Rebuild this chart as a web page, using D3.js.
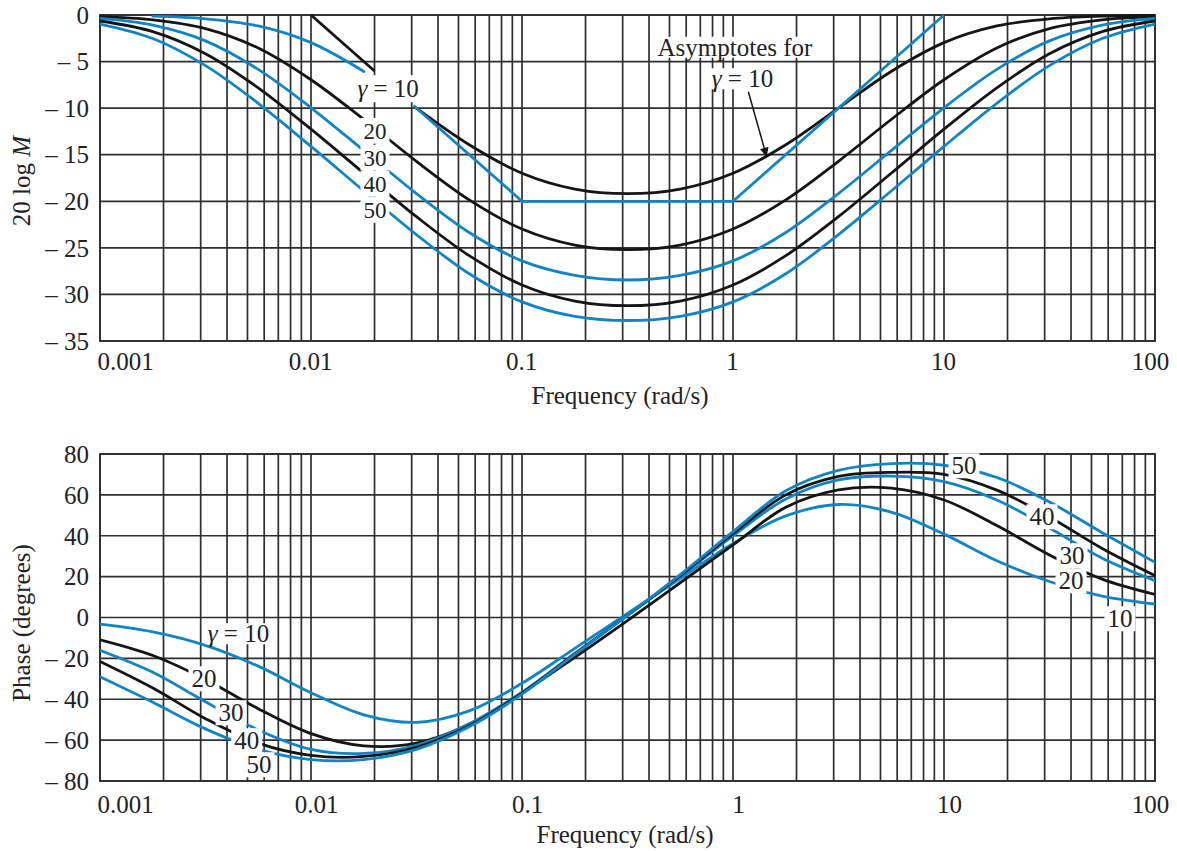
<!DOCTYPE html>
<html><head><meta charset="utf-8">
<script src="https://cdn.jsdelivr.net/npm/d3@7"></script>
<style>
body{margin:0;background:#fff}
svg text{font-family:"Liberation Serif","Times New Roman",serif;fill:#222}
</style>
</head><body>
<svg id="chart" width="1177" height="851"></svg>
<script>
// ---------------- data ----------------
const freq = [0.001, 0.00178, 0.00316, 0.00562, 0.01, 0.0178, 0.0316, 0.0562, 0.1, 0.178, 0.316,
              0.562, 1, 1.78, 3.16, 5.62, 10, 17.8, 31.6, 56.2, 100];
const gammas = [10, 20, 30, 40, 50];

// magnitude, 20 log M (dB)
const magG10 = [-0.04,-0.13,-0.41,-1.18,-2.97,-6.06,-10.00,-13.93,-16.99,-18.69,-19.18,-18.69,-16.99,-13.93,-10.00,-6.06,-2.97,-1.18,-0.41,-0.13,-0.04];
const magG20 = [-0.17,-0.52,-1.46,-3.54,-6.95,-11.22,-15.71,-19.85,-22.98,-24.70,-25.19,-24.70,-22.98,-19.85,-15.71,-11.22,-6.95,-3.54,-1.46,-0.52,-0.17];
const magG30 = [-0.37,-1.09,-2.78,-5.84,-9.96,-14.56,-19.17,-23.35,-26.40,-27.95,-28.45,-27.95,-26.40,-23.35,-19.17,-14.56,-9.96,-5.84,-2.78,-1.09,-0.37];
const magG40 = [-0.64,-1.78,-4.15,-7.82,-12.26,-16.99,-21.65,-25.84,-28.99,-30.71,-31.21,-30.71,-28.99,-25.84,-21.65,-16.99,-12.26,-7.82,-4.15,-1.78,-0.64];
const magG50 = [-0.97,-2.53,-5.44,-9.48,-14.11,-18.90,-23.58,-27.78,-30.80,-32.35,-32.80,-32.35,-30.80,-27.78,-23.58,-18.90,-14.11,-9.48,-5.44,-2.53,-0.97];

// asymptotes for gamma = 10
const asymFreq = [0.01, 0.02, 0.0306, 0.1, 1, 10];
const asymDb   = [0, -6.02, -9.71, -20, -20, 0];

// phase (degrees)
const phG10 = [-3.2,-7.0,-13.6,-23.8,-36.8,-47.6,-51.3,-45.7,-32.2,-15.1,2.0,19.1,36.2,49.7,55.3,51.6,40.8,27.8,17.6,10.5,6.6];
const phG20 = [-10.9,-18.6,-30.3,-44.6,-56.8,-62.8,-61.5,-52.3,-36.9,-19.5,-1.5,17.0,35.5,54.0,62.5,63.3,57.5,45.0,30.6,18.8,11.3];
const phG30 = [-16.0,-26.8,-41.2,-55.0,-64.5,-66.5,-62.5,-52.0,-36.5,-17.5,1.0,20.0,40.0,58.0,67.3,69.2,66.5,57.5,43.8,29.0,18.0];
const phG40 = [-21.5,-34.5,-49.5,-61.5,-67.5,-68.0,-63.5,-53.0,-37.0,-17.8,1.0,20.5,41.0,60.0,69.0,71.0,70.0,62.3,49.2,33.8,20.5];
const phG50 = [-29.0,-41.5,-54.5,-64.5,-69.5,-69.5,-64.5,-53.5,-37.5,-18.0,1.0,21.0,42.0,62.0,72.0,75.3,74.5,68.5,56.5,41.5,27.0];

// tick labels
const freqTicks = [0.001, 0.01, 0.1, 1, 10, 100];
const freqTickLabels = ["0.001", "0.01", "0.1", "1", "10", "100"];
const magTicks = [0, -5, -10, -15, -20, -25, -30, -35];
const phaseTicks = [80, 60, 40, 20, 0, -20, -40, -60, -80];

// ---------------- styles / layout ----------------
const BLUE = "#1184c6", BLACK = "#151515", GRID = "#2e2e2e";
const FS = 25;
const svg = d3.select("#chart");

const x = d3.scaleLog().domain([0.001, 100]).range([100, 1155]);
const yMag = d3.scaleLinear().domain([0, -35]).range([15, 341]);
const yPh = d3.scaleLinear().domain([80, -80]).range([454, 781]);

const minorFreqs = [];
for (let k = -3; k <= 1; k++) for (let m = 1; m <= 9; m++) minorFreqs.push(+(m * Math.pow(10, k)).toPrecision(3));
minorFreqs.push(100);

function panel(id, y, yTicks, fmt, xLabelDx, xLabelY, titleX, titleY, yTitleParts, yTitleCenter) {
  const g = svg.append("g").attr("id", id);
  const [y0, y1] = y.range();
  const top = Math.min(y0, y1), bot = Math.max(y0, y1);
  g.append("g").selectAll("line").data(minorFreqs).join("line")
    .attr("x1", d => x(d)).attr("x2", d => x(d)).attr("y1", top).attr("y2", bot)
    .attr("stroke", GRID).attr("stroke-width", 1.7);
  g.append("g").selectAll("line").data(yTicks).join("line")
    .attr("x1", x.range()[0]).attr("x2", x.range()[1]).attr("y1", d => y(d)).attr("y2", d => y(d))
    .attr("stroke", GRID).attr("stroke-width", 1.7);
  g.append("rect").attr("x", x.range()[0]).attr("y", top).attr("width", x.range()[1] - x.range()[0])
    .attr("height", bot - top).attr("fill", "none").attr("stroke", GRID).attr("stroke-width", 1.8);
  const ax = g.append("g").attr("transform", `translate(0,${bot})`)
    .call(d3.axisBottom(x).tickValues(freqTicks).tickFormat((d, i) => freqTickLabels[i]).tickSize(0));
  ax.select(".domain").remove();
  ax.selectAll("text").attr("font-size", FS).attr("font-family", null).attr("fill", "#222")
    .attr("y", xLabelY).attr("dy", 0)
    .attr("text-anchor", (d, i) => i === 0 ? "start" : "middle")
    .attr("dx", (d, i) => i === 0 ? -3 : (i === freqTicks.length - 1 ? -5 : xLabelDx));
  const ay = g.append("g").attr("transform", `translate(${x.range()[0]},0)`)
    .call(d3.axisLeft(y).tickValues(yTicks).tickFormat(fmt).tickSize(0).tickPadding(11));
  ay.select(".domain").remove();
  ay.selectAll("text").attr("font-size", FS).attr("font-family", null).attr("fill", "#222").attr("dy", "0.33em");
  g.append("text").attr("x", titleX).attr("y", titleY).attr("text-anchor", "middle")
    .attr("font-size", FS).text("Frequency (rad/s)");
  const t = g.append("text").attr("transform", `translate(30,${yTitleCenter}) rotate(-90)`)
    .attr("text-anchor", "middle").attr("font-size", FS);
  yTitleParts.forEach(p => t.append("tspan").attr("font-style", p.i ? "italic" : null).text(p.t));
  g.append("clipPath").attr("id", id + "-clip").append("rect")
    .attr("x", x.range()[0]).attr("y", top - 2).attr("width", x.range()[1] - x.range()[0]).attr("height", bot - top + 4);
  return g;
}

const dashFmt = d => d < 0 ? "\u2013 " + (-d) : String(d);

const gTop = panel("mag", yMag, magTicks, dashFmt, -1, 29, 620, 404, [{t: "20 log "}, {t: "M", i: true}], 181);
const gBot = panel("phase", yPh, phaseTicks, dashFmt, 5, 32, 625, 843, [{t: "Phase (degrees)"}], 623);

function drawSeries(g, y, vals, segs, clipId) {
  const pts = freq.map((f, i) => ({f, v: vals[i]}));
  const line = d3.line().x(d => x(d.f)).y(d => y(d.v)).curve(d3.curveCatmullRom.alpha(0.5));
  segs.forEach(s => {
    g.append("path").datum(pts.slice(s.from, s.to + 1)).attr("d", line)
      .attr("fill", "none").attr("stroke", s.color).attr("stroke-width", 2.8)
      .attr("stroke-linecap", "round").attr("clip-path", `url(#${clipId})`);
  });
}

const magSeries = [
  {vals: magG10, segs: [{from: 1, to: 5, color: BLUE}, {from: 6, to: 20, color: BLACK}]},
  {vals: magG20, segs: [{from: 0, to: 20, color: BLACK}]},
  {vals: magG30, segs: [{from: 0, to: 20, color: BLUE}]},
  {vals: magG40, segs: [{from: 0, to: 20, color: BLACK}]},
  {vals: magG50, segs: [{from: 0, to: 20, color: BLUE}]}
];
const gMagCurves = gTop.append("g");
magSeries.forEach(s => drawSeries(gMagCurves, yMag, s.vals, s.segs, "mag-clip"));
const asymPts = asymFreq.map((f, i) => ({f, v: asymDb[i]}));
const aline = d3.line().x(d => x(d.f)).y(d => yMag(d.v));
gMagCurves.append("path").datum(asymPts.slice(0, 2)).attr("d", aline).attr("fill", "none")
  .attr("stroke", BLACK).attr("stroke-width", 2.8);
gMagCurves.append("path").datum(asymPts.slice(2)).attr("d", aline).attr("fill", "none")
  .attr("stroke", BLUE).attr("stroke-width", 2.8).attr("stroke-linejoin", "round");

const phSeries = [
  {vals: phG10, color: BLUE}, {vals: phG20, color: BLACK}, {vals: phG30, color: BLUE},
  {vals: phG40, color: BLACK}, {vals: phG50, color: BLUE}
];
const gPhCurves = gBot.append("g");
phSeries.forEach(s => drawSeries(gPhCurves, yPh, s.vals, [{from: 0, to: 20, color: s.color}], "phase-clip"));

// ---------------- labels ----------------
function label(g, px, py, parts, fs, padX, padY) {
  const grp = g.append("g");
  const base = py + 0.33 * fs;
  const t = grp.append("text").attr("x", px).attr("y", base).attr("text-anchor", "middle")
    .attr("font-size", fs);
  parts.forEach(p => t.append("tspan").attr("font-style", p.i ? "italic" : null).text(p.t));
  const bb = t.node().getBBox();
  grp.insert("rect", "text").attr("x", bb.x - padX).attr("width", bb.width + 2 * padX)
    .attr("y", base - 0.68 * fs - padY).attr("height", 0.68 * fs + 2 * padY).attr("fill", "#fff");
  return grp;
}
const gam = v => [{t: "\u03b3", i: true}, {t: " = " + v}];

const magLabels = [
  {f: 0.0232, v: -7.94, parts: gam(10)},
  {f: 0.0201, v: -12.45, parts: [{t: "20"}], fs: 23},
  {f: 0.0201, v: -15.35, parts: [{t: "30"}], fs: 23},
  {f: 0.0201, v: -18.15, parts: [{t: "40"}], fs: 23},
  {f: 0.0201, v: -20.95, parts: [{t: "50"}], fs: 23},
  {f: 1.022, v: -3.49, parts: [{t: "Asymptotes for"}], padY: 2},
  {f: 1.109, v: -6.87, parts: gam(10), padY: 2}
];
const gMagLab = gTop.append("g");
magLabels.forEach(l => label(gMagLab, x(l.f), yMag(l.v), l.parts, l.fs ?? FS, 3, l.padY ?? 5));

const arrowFrom = {f: 1.182, v: -8.24}, arrowTo = {f: 1.444, v: -15.21};
svg.append("defs").append("marker").attr("id", "ah").attr("viewBox", "0 0 10 10").attr("refX", 10).attr("refY", 5)
  .attr("markerWidth", 12).attr("markerHeight", 9).attr("markerUnits", "userSpaceOnUse").attr("orient", "auto")
  .append("path").attr("d", "M0,0 L10,5 L0,10 z").attr("fill", BLACK);
gMagLab.append("line").attr("x1", x(arrowFrom.f)).attr("y1", yMag(arrowFrom.v))
  .attr("x2", x(arrowTo.f)).attr("y2", yMag(arrowTo.v)).attr("stroke", BLACK).attr("stroke-width", 1.5)
  .attr("marker-end", "url(#ah)");

const phLabels = [
  {f: 0.00453, v: -8.07, parts: gam(10), padY: 2},
  {f: 0.00311, v: -30.09, parts: [{t: "20"}]},
  {f: 0.00418, v: -46.72, parts: [{t: "30"}]},
  {f: 0.00496, v: -60.42, parts: [{t: "40"}]},
  {f: 0.00567, v: -72.16, parts: [{t: "50"}]},
  {f: 12.44, v: 74.12, parts: [{t: "50"}]},
  {f: 29.14, v: 49.17, parts: [{t: "40"}]},
  {f: 40.43, v: 30.09, parts: [{t: "30"}]},
  {f: 40.0, v: 17.86, parts: [{t: "20"}]},
  {f: 68.2, v: -0.73, parts: [{t: "10"}]}
];
const gPhLab = gBot.append("g");
phLabels.forEach(l => label(gPhLab, x(l.f), yPh(l.v), l.parts, FS, 3, l.padY ?? 4));
</script>
</body></html>
